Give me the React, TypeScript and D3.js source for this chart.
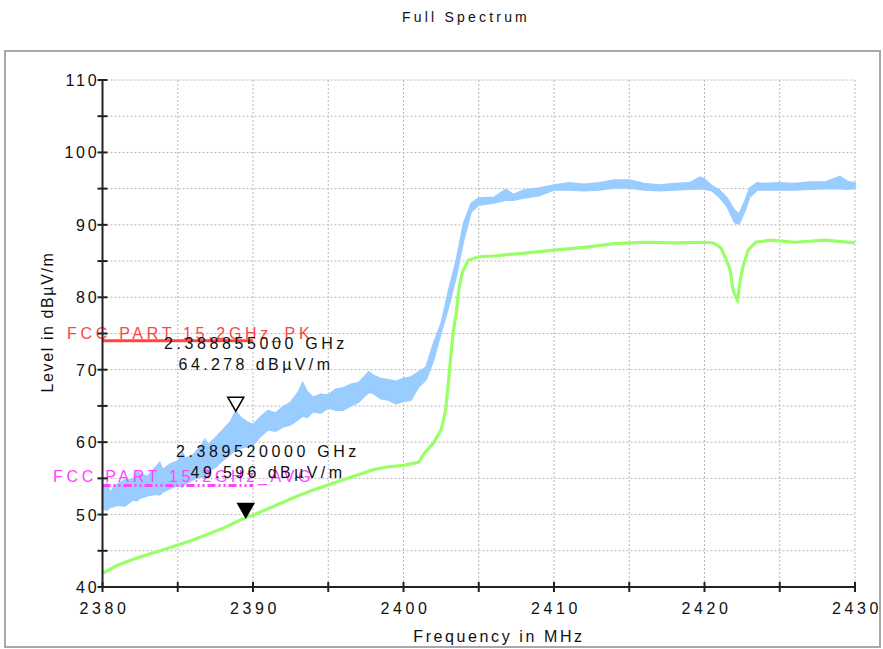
import React from "react";
import * as d3 from "d3";

// tick values
const xTicks = [2380, 2385, 2390, 2395, 2400, 2405, 2410, 2415, 2420, 2425, 2430];
const xLabels = [2380, 2390, 2400, 2410, 2420, 2430];
const yTicks = [40, 45, 50, 55, 60, 65, 70, 75, 80, 85, 90, 95, 100, 105, 110];
const yLabels = [40, 50, 60, 70, 80, 90, 100, 110];

const peakFreq = [
  2380, 2380.3, 2380.5, 2380.8, 2381, 2381.5, 2382, 2382.3, 2382.5, 2383, 2383.5, 2383.8,
  2384, 2384.5, 2385, 2385.3, 2385.5, 2386, 2386.5, 2386.8, 2387, 2387.5, 2388, 2388.5,
  2388.85, 2389.2, 2389.6, 2390, 2390.5, 2391, 2391.5, 2392, 2392.5, 2393, 2393.3,
  2393.6, 2394, 2394.5, 2395, 2395.5, 2396, 2396.5, 2397, 2397.7, 2398, 2398.5, 2399,
  2399.5, 2400, 2400.5, 2401, 2401.5, 2402, 2402.5, 2403, 2403.5, 2404, 2404.5, 2405,
  2406, 2406.8, 2407.3, 2408, 2409, 2410, 2411, 2412, 2413, 2414, 2415, 2416, 2417,
  2418, 2419, 2419.7, 2420, 2420.5, 2421, 2421.5, 2422, 2422.3, 2422.7, 2423, 2423.5,
  2424, 2425, 2426, 2427, 2428, 2429, 2429.5, 2430,
];
const peakHi = [
  53.5, 54.3, 53.0, 54.0, 54.2, 54.8, 54.8, 56.0, 55.6, 55.3, 56.5, 57.2,
  56.2, 57.0, 57.4, 58.6, 57.8, 58.2, 59.4, 60.4, 59.6, 60.6, 61.7, 62.8,
  64.3, 63.4, 62.8, 62.4, 63.5, 64.4, 64.0, 64.9, 65.5, 66.9, 68.2,
  67.0, 66.2, 66.6, 66.5, 67.3, 67.5, 68.0, 68.2, 69.7, 69.2, 68.8, 68.6,
  68.4, 68.8, 69.0, 69.7, 70.4, 73.7, 76.4, 81.0, 85.1, 90.3, 93.0, 93.7,
  93.8, 94.9, 94.2, 94.8, 95.1, 95.5, 95.8, 95.6, 95.8, 96.2, 96.2, 95.7, 95.5,
  95.7, 95.8, 96.6, 96.3, 95.4, 94.8, 93.7, 92.0, 91.5, 93.4, 95.1, 95.8,
  95.7, 95.8, 95.7, 95.9, 95.9, 96.7, 96.0, 95.8,
];
const peakLo = [
  50.8, 50.6, 51.0, 51.1, 51.3, 51.2, 52.0, 51.9, 52.3, 52.6, 52.8, 52.7,
  53.1, 53.6, 54.0, 53.8, 54.2, 54.8, 55.2, 55.0, 56.0, 56.5, 57.5, 58.3,
  58.9, 59.2, 59.4, 59.6, 60.8, 61.7, 61.5, 62.1, 62.4, 63.1, 63.6,
  63.4, 64.2, 64.0, 64.7, 64.4, 64.4, 65.0, 65.5, 66.9, 66.7, 66.0, 65.8,
  65.3, 65.6, 65.8, 67.6, 68.6, 71.3, 75.1, 78.7, 82.8, 87.9, 91.8, 92.7,
  93.0, 93.4, 93.4, 93.7, 94.0, 94.8, 94.8, 94.7, 94.8, 95.1, 95.1, 94.8, 94.7,
  94.8, 94.9, 95.0, 94.9, 94.7, 93.8, 92.5, 90.3, 90.1, 92.0, 93.8, 94.8,
  94.8, 94.8, 94.8, 94.9, 95.0, 95.0, 94.9, 95.0,
];

// average trace (green)
const avgFreq = [
  2380, 2381, 2382, 2383, 2384, 2385, 2386, 2387, 2388, 2389.5, 2390, 2391, 2392, 2393,
  2394, 2395, 2396, 2397, 2398, 2399, 2400, 2401, 2401.4, 2402, 2402.5, 2402.8, 2403,
  2403.1, 2403.3, 2403.5, 2403.7, 2403.9, 2404.3, 2405, 2406, 2408, 2410, 2412, 2414,
  2416, 2418, 2420, 2420.6, 2421.1, 2421.4, 2421.7, 2421.9, 2422.1, 2422.2, 2422.35,
  2422.55, 2422.9, 2423.4, 2424.4, 2426, 2428, 2430,
];
const avgLevel = [
  41.9, 43.0, 43.8, 44.5, 45.1, 45.8, 46.5, 47.3, 48.1, 49.6, 49.9, 50.8, 51.7, 52.6,
  53.4, 54.1, 54.8, 55.5, 56.2, 56.6, 56.8, 57.2, 58.5, 59.9, 61.7, 64.4, 68.6,
  70.9, 75.1, 77.8, 81.4, 83.4, 85.1, 85.6, 85.7, 86.1, 86.5, 86.9, 87.4,
  87.6, 87.5, 87.6, 87.5, 86.8, 85.4, 83.8, 81.0, 79.9, 79.6, 82.0,
  84.2, 86.5, 87.6, 87.9, 87.6, 87.9, 87.5,
];

// limit lines
const limitNames = ["FCC PART 15.2GHz_PK", "FCC PART 15.2GHz_AVG"];
const limitLevels = [74, 54];
const limitStart = [2380, 2380];
const limitEnd = [2390, 2390];
const limitColors = ["#ff4444", "#ff44ff"];

// markers
const markerFreq = [2388.855, 2389.52];
const markerLevel = [64.278, 49.596];
const markerFreqText = ["2.388855000 GHz", "2.389520000 GHz"];
const markerLevelText = ["64.278 dBµV/m", "49.596 dBµV/m"];

const W = 883;
const H = 649;
const font = "'Liberation Sans', Arial, sans-serif";

export default function App() {
  const x = d3.scaleLinear().domain([2380, 2430]).range([102.5, 855]);
  const y = d3.scaleLinear().domain([40, 110]).range([587, 80]);

  const peakData = peakFreq.map((f, i) => ({ f, hi: peakHi[i], lo: peakLo[i] }));
  const avgData = avgFreq.map((f, i) => ({ f, v: avgLevel[i] }));

  const peakArea = d3
    .area<{ f: number; hi: number; lo: number }>()
    .x(d => x(d.f))
    .y0(d => y(d.lo))
    .y1(d => y(d.hi));
  const avgLine = d3
    .line<{ f: number; v: number }>()
    .x(d => x(d.f))
    .y(d => y(d.v));

  const [x0, x1] = x.range();
  const [yb, yt] = y.range();

  return (
    <svg
      width={W}
      height={H}
      style={{ position: "absolute", left: 0, top: 0, background: "#fff" }}
      fontFamily={font}
    >
      <text x={466} y={22} textAnchor="middle" fontSize={14} letterSpacing={3.2} fill="#111"
        fontFamily="'Liberation Sans Narrow', 'Liberation Sans', Arial, sans-serif">
        Full Spectrum
      </text>
      <rect x={5} y={51} width={875} height={596} fill="none" stroke="#a8a8a8" strokeWidth={2} />

      {/* grid */}
      <g stroke="#b8b8b8" strokeWidth={1} strokeDasharray="2,2">
        {yTicks.filter(t => t > 40).map(t => (
          <line key={"gy" + t} x1={x0} x2={x1} y1={y(t)} y2={y(t)} />
        ))}
        {xTicks.filter(t => t > 2380).map(t => (
          <line key={"gx" + t} x1={x(t)} x2={x(t)} y1={yt} y2={yb} />
        ))}
      </g>

      {/* traces */}
      <path d={peakArea(peakData) ?? ""} fill="#99ccff" stroke="#99ccff" strokeWidth={1.5} />
      <path d={avgLine(avgData) ?? ""} fill="none" stroke="#99ff66" strokeWidth={3.2} />

      {/* limit lines */}
      {limitNames.map((n, i) => (
        <g key={n}>
          <line
            x1={x(limitStart[i])}
            x2={x(limitEnd[i])}
            y1={y(limitLevels[i])}
            y2={y(limitLevels[i])}
            stroke={limitColors[i]}
            strokeWidth={3}
            strokeDasharray={i === 1 ? "8,3,2,3,2,3" : undefined}
          />
          <text
            x={i === 0 ? 67 : 53}
            y={y(limitLevels[i]) - 2 - (i === 1 ? 2 : 0)}
            fontSize={16}
            letterSpacing={3.7}
            fill={limitColors[i]}
          >
            {n}
          </text>
        </g>
      ))}

      {/* axes */}
      <g stroke="#222" strokeWidth={2}>
        <line x1={x0} x2={x0} y1={yt - 1} y2={yb} />
        <line x1={x0} x2={x1} y1={yb} y2={yb} />
        {yTicks.map(t => (
          <line key={"ty" + t} x1={x0 - 5} x2={x0 + 5} y1={y(t)} y2={y(t)} />
        ))}
        {xTicks.map(t => (
          <line key={"tx" + t} x1={x(t)} x2={x(t)} y1={yb - 5} y2={yb + 5} />
        ))}
      </g>
      <g fontSize={16} fill="#111">
        {yLabels.map(t => (
          <text key={"ly" + t} x={x0 - 3} y={y(t) + 6} textAnchor="end" letterSpacing={2.8}>
            {t}
          </text>
        ))}
        {xLabels.map(t => (
          <text key={"lx" + t} x={x(t) + 2} y={614} textAnchor="middle" letterSpacing={3.6}>
            {t}
          </text>
        ))}
      </g>
      <text x={499} y={642} textAnchor="middle" fontSize={16} letterSpacing={2.6} fill="#111">
        Frequency in MHz
      </text>
      <text
        transform={`translate(53,${322}) rotate(-90)`}
        textAnchor="middle"
        fontSize={16}
        letterSpacing={1.6}
        fill="#111"
      >
        Level in dBµV/m
      </text>

      {/* markers */}
      {markerFreq.map((f, i) => {
        const mx = x(f);
        const my = y(markerLevel[i]);
        const tri = `M${mx - 8},${my - 14}L${mx + 8},${my - 14}L${mx},${my}Z`;
        const cx = i === 0 ? 256 : 268;
        const ty = i === 0 ? 349 : 457;
        return (
          <g key={"m" + i}>
            <path d={tri} fill={i === 0 ? "#fff" : "#000"} stroke="#000" strokeWidth={1.5} />
            <text x={cx} y={ty} textAnchor="middle" fontSize={16} letterSpacing={3.6} fill="#111">
              {markerFreqText[i]}
            </text>
            <text x={cx} y={ty + 21} textAnchor="middle" fontSize={16} letterSpacing={3.4} fill="#111">
              {markerLevelText[i]}
            </text>
          </g>
        );
      })}
    </svg>
  );
}
